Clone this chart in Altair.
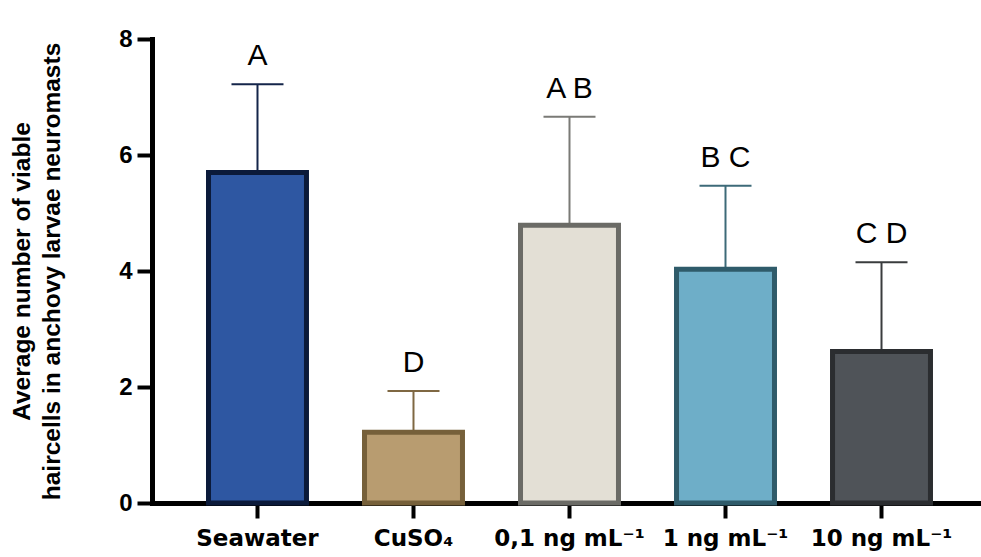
import altair as alt
import pandas as pd

categories = ["Seawater", "CuSO\u2084", "0,1 ng mL\u207b\u00b9", "1 ng mL\u207b\u00b9", "10 ng mL\u207b\u00b9"]
means = [5.70, 1.22, 4.79, 4.03, 2.61]
uppers = [7.22, 1.93, 6.66, 5.47, 4.15]
letters = ["A", "D", "A B", "B C", "C D"]

fills = ["#2E57A2", "#B89C70", "#E3DFD5", "#6EAEC8", "#4F5358"]
strokes = ["#0B1A3A", "#76603A", "#6B6B66", "#2F5B6A", "#2B2D30"]
errcolors = ["#14254A", "#7F6843", "#7A7A76", "#3D6A78", "#3A3C3E"]

df = pd.DataFrame({
    "group": categories,
    "mean": means,
    "upper": uppers,
    "letter": letters,
})

xscale = alt.Scale(domain=categories, paddingInner=0.372, paddingOuter=0.343, align=0.528)
yscale = alt.Scale(domain=[0, 8], nice=False, zero=True)

xaxis = alt.Axis(
    title=None, labelAngle=0, domainWidth=5, domainColor="black", domainCap="square",
    tickWidth=4, tickColor="black", tickSize=15,
    labelFont="DejaVu Sans", labelFontWeight="bold", labelFontSize=23,
    labelColor="black", labelPadding=9,
)
yaxis = alt.Axis(
    values=[0, 2, 4, 6, 8], format="d", grid=False,
    domainWidth=5, domainColor="black", domainCap="square",
    tickWidth=4, tickColor="black", tickSize=15,
    labelFont="Liberation Sans", labelFontWeight="bold", labelFontSize=24,
    labelColor="black", labelPadding=5,
    title=["Average number of viable", "haircells in anchovy larvae neuromasts"],
    titleFont="Liberation Sans", titleFontWeight="bold", titleFontSize=24.5,
    titleLineHeight=30, titleColor="black", titleX=-123, titleBaseline="alphabetic",
)

X = alt.X("group:N", sort=categories, scale=xscale, axis=xaxis)

fill_enc = alt.Fill("group:N", scale=alt.Scale(domain=categories, range=fills), legend=None)
stroke_enc = alt.Stroke("group:N", scale=alt.Scale(domain=categories, range=strokes), legend=None)
err_enc = alt.Color("group:N", scale=alt.Scale(domain=categories, range=errcolors), legend=None)

bars = alt.Chart(df).mark_bar(strokeWidth=5, opacity=1, fillOpacity=1).encode(
    x=X,
    y=alt.Y("mean:Q", scale=yscale, axis=yaxis),
    fill=fill_enc,
    stroke=stroke_enc,
)

rules = alt.Chart(df).mark_rule(strokeWidth=2).encode(
    x=X,
    y=alt.Y("mean:Q", scale=yscale, axis=yaxis),
    y2="upper:Q",
    color=err_enc,
)

caps = alt.Chart(df).mark_tick(size=52, thickness=2, orient="horizontal", opacity=1).encode(
    x=X,
    y=alt.Y("upper:Q", scale=yscale, axis=yaxis),
    color=err_enc,
)

labels = alt.Chart(df).mark_text(
    font="Liberation Sans", fontSize=30, color="black", dy=-19, baseline="alphabetic"
).encode(
    x=X,
    y=alt.Y("upper:Q", scale=yscale, axis=yaxis),
    text="letter:N",
)

chart = alt.layer(rules, caps, bars, labels).properties(
    width=829, height=464,
    background="white",
    autosize=alt.AutoSizeParams(type="none"),
    padding={"left": 152, "top": 39, "right": 0, "bottom": 54},
).configure_view(stroke=None)

chart.save("out.html", embed_options={"renderer": "svg", "actions": False})
